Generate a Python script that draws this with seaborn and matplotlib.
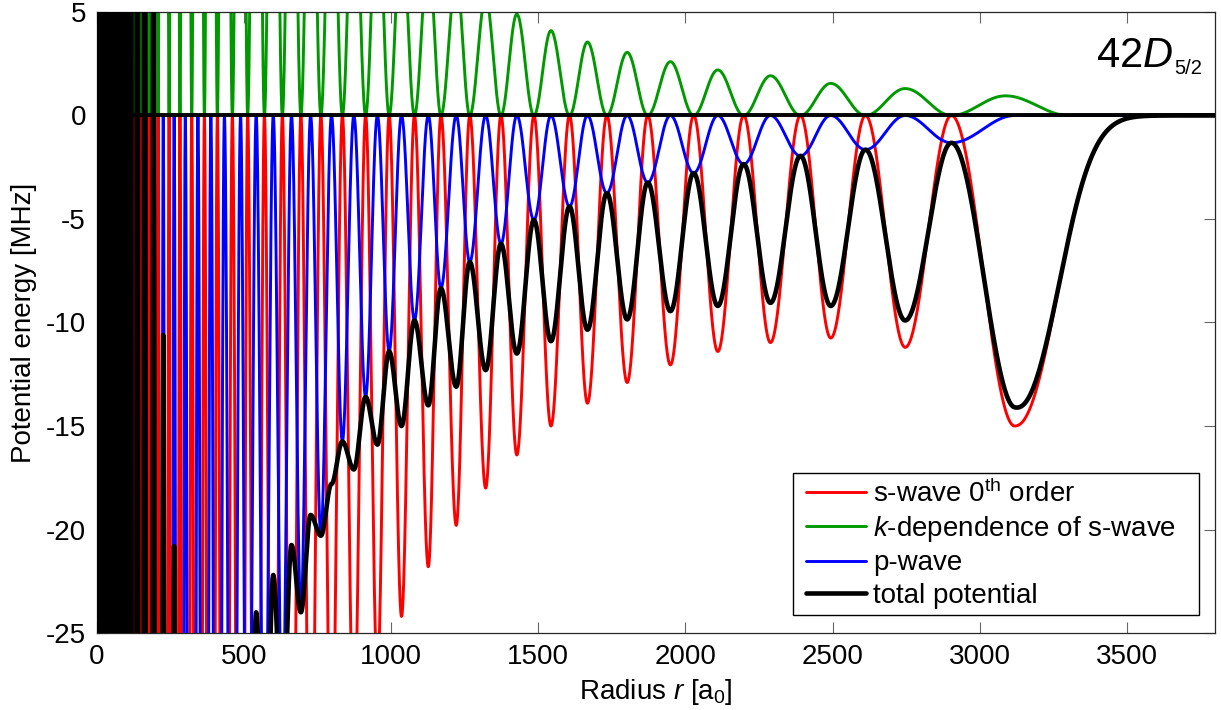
import numpy as np
import matplotlib
matplotlib.use("Agg")
import matplotlib.pyplot as plt
from matplotlib.lines import Line2D
from matplotlib.legend_handler import HandlerLine2D
import seaborn as sns

# ---------------- data ----------------
# radii (a0) of the nodes of the s-wave term (zeros of red/green, minima of blue)
node_r = [0, 9, 19, 29, 39, 49, 59, 69, 80, 91, 103, 126, 148, 177, 208, 245, 282,
          322, 365, 409, 460, 512, 569, 630, 693, 761, 834, 913, 993, 1079, 1169,
          1267, 1373, 1485, 1606, 1733, 1872, 2028, 2198, 2391, 2612, 2904]
# p-wave value (MHz) at each node
blue_node_min = [-1000, -1000, -1000, -950, -900, -850, -800, -750, -700, -650, -600,
                 -520, -450, -400, -300, -220, -170, -130, -100, -80, -62, -45, -36,
                 -30, -24, -20.3, -15.75, -13.6, -11.4, -9.9, -8.35, -7.08, -6.2,
                 -5.05, -4.4, -3.75, -3.24, -2.78, -2.35, -1.95, -1.65, -1.32]
# radii of the lobe centres (red troughs / green peaks / blue zeros)
center_r = [4, 14, 24, 34, 44, 54, 64, 75, 85, 97, 114, 137, 162, 192, 225, 262, 300,
            343, 387, 433, 488, 541, 599, 661, 726, 797, 873, 953, 1035, 1126, 1221,
            1321, 1427, 1543, 1667, 1802, 1949, 2110, 2289, 2494, 2747, 3119]
# s-wave 0th order value at each lobe centre (MHz)
red_min = [-1600, -1600, -1600, -1500, -1400, -1300, -1200, -1100, -1000, -900, -700,
           -500, -350, -280, -220, -180, -150, -125, -105, -90, -75, -62, -52, -44,
           -38, -33, -30, -27, -24.2, -21.8, -19.8, -18.0, -16.4, -15.0, -13.9, -12.9,
           -12.05, -11.4, -10.97, -10.75, -11.2, -15.0]
# k-dependence of s-wave value at each lobe centre (MHz)
green_max = [1800, 1800, 1800, 1700, 1600, 1500, 1400, 1280, 1160, 1040, 800, 570, 390,
             300, 209.4, 159.2, 123, 97.5, 76.6, 62.1, 48.8, 38, 29.8, 23.25, 18.7,
             15.2, 12.9, 11.1, 9.2, 7.8, 6.7, 5.7, 4.9, 4.1, 3.55, 3.05, 2.6, 2.2,
             1.92, 1.55, 1.3, 0.95]
# outer tails
red_tail_width = 190.0
red_tail_power = 2.2
green_last_peak_r = 3088
green_end_r = 3303
blue_first_r = 208

x_ticks = [0, 500, 1000, 1500, 2000, 2500, 3000, 3500]
y_ticks = [-25, -20, -15, -10, -5, 0, 5]
labels = ["s-wave 0$^{\\mathrm{th}}$ order", "$k$-dependence of s-wave   ",
          "p-wave", "total potential"]

# ---------------- curve construction from the read extrema ----------------
r = np.linspace(0, 3800, 60001)
nodes = np.array(node_r, float)
cents = np.array(center_r, float)


def lobes(amps, last_peak=None, last_end=None):
    y = np.zeros_like(r)
    n = len(nodes)
    for i in range(n):
        n0, c = nodes[i], cents[i]
        if i == n - 1 and last_peak is not None:
            c = last_peak
        m = (r >= n0) & (r < c)
        y[m] = amps[i] * np.sin(0.5 * np.pi * (r[m] - n0) / (c - n0)) ** 2
        n1 = nodes[i + 1] if i + 1 < n else last_end
        if n1 is not None:
            m = (r >= c) & (r < n1)
            y[m] = amps[i] * np.cos(0.5 * np.pi * (r[m] - c) / (n1 - c)) ** 2
    return y


red = lobes(red_min)
tail = r >= cents[-1]
red[tail] = red_min[-1] * np.exp(-((r[tail] - cents[-1]) / red_tail_width) ** red_tail_power)

green = lobes(green_max, last_peak=green_last_peak_r, last_end=green_end_r)

blue = np.zeros_like(r)
for i in range(len(nodes)):
    n0, b = nodes[i], blue_node_min[i]
    c1 = cents[i]
    m = (r >= n0) & (r < c1)
    blue[m] = b * np.cos(0.5 * np.pi * (r[m] - n0) / (c1 - n0)) ** 2
    if i > 0:
        c0 = cents[i - 1]
        m = (r >= c0) & (r < n0)
        blue[m] = b * np.sin(0.5 * np.pi * (r[m] - c0) / (n0 - c0)) ** 2

total = red + green + blue

# ---------------- plotting ----------------
sns.set_theme(style="ticks")
plt.rcParams["font.family"] = ["Liberation Sans", "DejaVu Sans"]
plt.rcParams["mathtext.fontset"] = "custom"
plt.rcParams["mathtext.rm"] = "Liberation Sans"
plt.rcParams["mathtext.it"] = "Liberation Sans:italic"
plt.rcParams["mathtext.bf"] = "Liberation Sans:bold"
plt.rcParams["axes.unicode_minus"] = False
plt.rcParams["text.color"] = "black"
plt.rcParams["axes.labelcolor"] = "black"

fig = plt.figure(figsize=(12.21, 7.10), dpi=100)
ax = fig.add_axes([0.07944, 0.10845, 0.91564, 0.87465])

bmask = r >= blue_first_r
sns.lineplot(x=r, y=red, ax=ax, color=(1, 0, 0), lw=2.1, label=labels[0],
             estimator=None, sort=False, zorder=2)
sns.lineplot(x=r, y=green, ax=ax, color=(0, 0.6, 0), lw=2.1, label=labels[1],
             estimator=None, sort=False, zorder=2)
sns.lineplot(x=r[bmask], y=blue[bmask], ax=ax, color=(0, 0, 1), lw=2.1, label=labels[2],
             estimator=None, sort=False, zorder=3)
sns.lineplot(x=r, y=total, ax=ax, color=(0, 0, 0), lw=3.3, label=labels[3],
             estimator=None, sort=False, zorder=4)
ax.axhline(0, color=(0, 0, 0), lw=2.8, zorder=5)

ax.set_xlim(0, 3800)
ax.set_ylim(-25, 5)
ax.set_xticks(x_ticks)
ax.set_yticks(y_ticks)
ax.set_xticklabels([str(v) for v in x_ticks])
ax.set_yticklabels([str(v) for v in y_ticks])
ax.tick_params(direction="in", length=8, width=0.8, color="0.4", top=True, right=True,
               labelsize=20, labelcolor="black", pad=8)
for s in ax.spines.values():
    s.set_color("0.15")
    s.set_linewidth(0.9)

ax.set_xlabel("Radius $r$ [a$_0$]", fontsize=20, labelpad=5, color="black")
ax.set_ylabel("Potential energy [MHz]", fontsize=20, labelpad=6, color="black")

ax.text(0.9624, 0.9114, r"42$D$", transform=ax.transAxes,
        ha="right", va="baseline", fontsize=30, color="black")
ax.text(0.9633, 0.9002, "5/2", transform=ax.transAxes,
        ha="left", va="baseline", fontsize=14.5, color="black")

leg = ax.legend(loc="lower right", bbox_to_anchor=(0.9857, 0.029), borderaxespad=0,
                fontsize=20, frameon=True, fancybox=False, shadow=False, framealpha=1,
                edgecolor="black", handlelength=2.39, handletextpad=0.25,
                labelspacing=0.226, borderpad=0.23,
                handler_map={Line2D: HandlerLine2D(xpad=0.24)})
leg.get_frame().set_linewidth(1.0)
for t in leg.get_texts():
    t.set_color("black")

fig.savefig("out.png", dpi=100)
